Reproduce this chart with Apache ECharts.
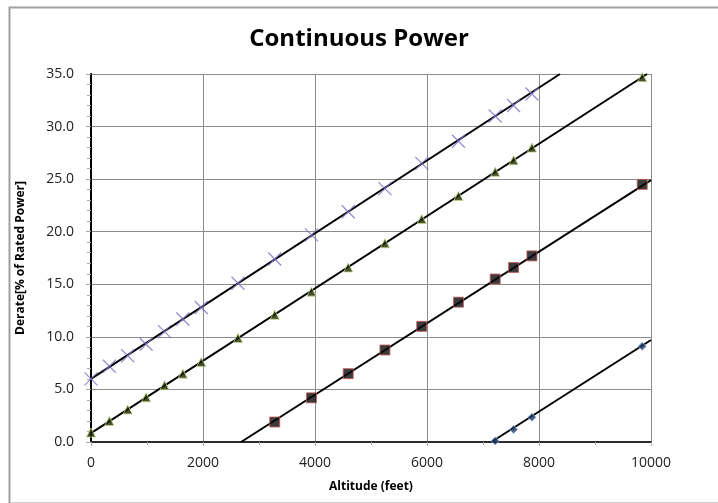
<!DOCTYPE html>
<html>
<head>
<meta charset="utf-8">
<script src="https://cdn.jsdelivr.net/npm/echarts@6/dist/echarts.min.js"></script>
<style>
  html, body { margin: 0; padding: 0; background: #fff; }
  #chart { width: 718px; height: 503px; }
</style>
</head>
<body>
<div id="chart"></div>
<script>
// altitudes (feet) where the points sit
const altitudes = [0, 328, 656, 984, 1312, 1640, 1969, 2625, 3281, 3937, 4593, 5249, 5906, 6562, 7218, 7546, 7874, 9843];

// derate values, null where a series has no point
const crossVals    = [6.0, 7.2, 8.2, 9.3, 10.5, 11.7, 12.8, 15.1, 17.4, 19.7, 21.9, 24.1, 26.5, 28.6, 31.0, 32.0, 33.1, null];
const triangleVals = [0.9, 2.0, 3.1, 4.25, 5.4, 6.5, 7.6, 9.9, 12.1, 14.3, 16.6, 18.9, 21.2, 23.4, 25.7, 26.8, 28.0, 34.7];
const squareVals   = [null, null, null, null, null, null, null, null, 1.9, 4.2, 6.5, 8.75, 11.0, 13.3, 15.5, 16.6, 17.7, 24.5];
const diamondVals  = [null, null, null, null, null, null, null, null, null, null, null, null, null, null, 0.1, 1.2, 2.35, 9.1];

// trendline end points
const crossTrend    = [[0, 6.0], [8375, 35]];
const triangleTrend = [[0, 0.85], [9930, 35]];
const squareTrend   = [[2680, 0], [10000, 24.9]];
const diamondTrend  = [[7150, 0], [10000, 9.7]];

const pts = vals => altitudes.map((a, i) => [a, vals[i]]).filter(p => p[1] != null);

const FONT = '"Open Sans", sans-serif';

const chart = echarts.init(document.getElementById('chart'), null, { renderer: 'canvas' });

const trend = data => ({
  type: 'line', data, showSymbol: false, symbol: 'none', clip: true, z: 2,
  lineStyle: { color: '#000', width: 2 }, silent: true
});

chart.setOption({
  animation: false,
  title: {
    text: 'Continuous Power', left: 'center', top: 22,
    textStyle: { fontFamily: FONT, fontWeight: 'bold', fontSize: 24, color: '#000' }
  },
  graphic: [{
    type: 'rect', left: 7, top: 5, shape: { width: 720, height: 496 },
    style: { fill: 'none', stroke: '#a0a0a0', lineWidth: 2 }, silent: true
  }],
  grid: { left: 91, right: 67, top: 74, bottom: 61 },
  xAxis: [{
    type: 'value', min: 0, max: 10000, interval: 2000,
    name: 'Altitude (feet)', nameLocation: 'middle', nameGap: 39,
    nameTextStyle: { fontFamily: FONT, fontWeight: 'bold', fontSize: 12, color: '#000' },
    axisLine: { show: true, lineStyle: { color: '#a8a8a8', width: 2 } },
    axisTick: { show: true, length: 4, lineStyle: { color: '#a8a8a8' } },
    minorTick: { show: true, splitNumber: 2, length: 3, lineStyle: { color: '#a8a8a8' } },
    axisLabel: { fontFamily: FONT, fontSize: 14, color: '#222', margin: 14, formatter: v => String(v) },
    splitLine: { show: true, lineStyle: { color: '#8c8c8c', width: 1 } }
  }, {
    type: 'value', position: 'top', min: 0, max: 10000,
    axisLine: { show: true, lineStyle: { color: '#000', width: 1.5 } },
    axisTick: { show: false }, axisLabel: { show: false }, splitLine: { show: false }
  }],
  yAxis: [{
    type: 'value', min: 0, max: 35, interval: 5,
    name: 'Derate[% of Rated Power]', nameLocation: 'middle', nameGap: 64,
    nameTextStyle: { fontFamily: FONT, fontWeight: 'bold', fontSize: 12, color: '#000' },
    axisLine: { show: true, lineStyle: { color: '#a8a8a8', width: 2 } },
    axisTick: { show: true, length: 5, lineStyle: { color: '#a8a8a8' } },
    minorTick: { show: true, splitNumber: 5, length: 4, lineStyle: { color: '#a8a8a8' } },
    axisLabel: { fontFamily: FONT, fontSize: 14, color: '#222', margin: 17, formatter: v => v.toFixed(1) },
    splitLine: { show: true, lineStyle: { color: '#8c8c8c', width: 1 } }
  }, {
    type: 'value', position: 'right', min: 0, max: 35,
    axisLine: { show: true, lineStyle: { color: '#000', width: 2 } },
    axisTick: { show: false }, axisLabel: { show: false }, splitLine: { show: false }
  }],
  series: [
    trend(crossTrend),
    trend(triangleTrend),
    trend(squareTrend),
    trend(diamondTrend),
    {
      type: 'scatter', data: pts(crossVals), z: 5,
      symbol: 'path://M0,0L10,10M10,0L0,10', symbolSize: 13,
      itemStyle: { color: 'transparent', borderColor: '#7e70c4', borderWidth: 1.3 }
    },
    {
      type: 'scatter', data: pts(triangleVals), z: 5,
      symbol: 'triangle', symbolSize: 9,
      itemStyle: { color: '#1c2600', borderColor: '#c4d488', borderWidth: 1 }
    },
    {
      type: 'scatter', data: pts(squareVals), z: 5,
      symbol: 'rect', symbolSize: 10,
      itemStyle: { color: '#0a0a0a', borderColor: '#c45a5a', borderWidth: 1 }
    },
    {
      type: 'scatter', data: pts(diamondVals), z: 5,
      symbol: 'diamond', symbolSize: 8,
      itemStyle: { color: '#1c3462', borderColor: '#8eaee0', borderWidth: 1 }
    }
  ]
});
</script>
</body>
</html>
